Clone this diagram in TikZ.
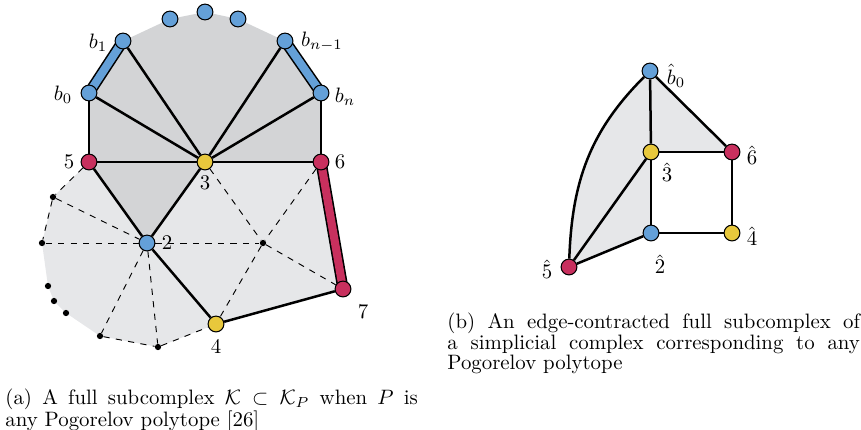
\documentclass[tikz,border=0pt]{standalone}
\usetikzlibrary{backgrounds}

\definecolor{vblue}{RGB}{100,160,216}
\definecolor{vred}{RGB}{200,48,94}
\definecolor{vyellow}{RGB}{232,200,60}
\definecolor{fdark}{RGB}{211,212,214}
\definecolor{flight}{RGB}{230,231,233}

\tikzset{
    vert/.style={circle, draw=black, line width=0.5pt, minimum size=7.6pt, inner sep=0pt},
    bv/.style={vert, fill=vblue},
    rv/.style={vert, fill=vred},
    yv/.style={vert, fill=vyellow},
    sdot/.style={circle, fill=black, minimum size=3pt, inner sep=0pt},
    edge/.style={line width=1.2pt},
    aux/.style={dashed, line width=0.45pt},
    capbox/.style={anchor=base west, text width=198pt, align=justify, inner sep=0pt,
        font=\fontsize{10}{9.3}\selectfont}
}

\newcommand{\bandedge}[3]{
    \draw[line width=5.4pt, black] (#1.center) -- (#2.center);
    \draw[line width=3.9pt, #3] (#1.center) -- (#2.center);
}

\begin{document}
\begin{tikzpicture}[x=0.48pt, y=-0.48pt]
    \useasboundingbox (0,0) rectangle (861,429);
    % (a) the full subcomplex
    \foreach \n/\x/\y in {t1/170/19, t2/205/12, t3/238/19, b1/123/41, bm/285/41, b0/89/93, bn/321/93, v2/147/243}
        \node[bv] (\n) at (\x,\y) {};
    \node[rv] (v5) at (89,162) {};
    \node[yv] (v3) at (205,162) {};
    \node[rv] (v6) at (321,162) {};
    \node[rv] (v7) at (343,289) {};
    \node[yv] (v4) at (216,324) {};
    \foreach \n/\x/\y in {d1/53/197, d2/42/243, d3/48/286, d4/54/301, d5/66/313, d6/100/336, d7/158/347, m/263/243}
        \node[sdot] (\n) at (\x,\y) {};
    \begin{scope}[on background layer]
        \fill[flight] (v5.center) -- (d1.center) -- (d2.center) -- (d3.center) -- (d4.center) -- (d5.center)
            -- (d6.center) -- (d7.center) -- (v4.center) -- (v7.center) -- (v6.center) -- cycle;
        \fill[fdark] (v5.center) -- (b0.center) -- (b1.center) -- (t1.center) -- (t2.center) -- (t3.center)
            -- (bm.center) -- (bn.center) -- (v6.center) -- (v3.center) -- (v2.center) -- cycle;
        \foreach \a/\b in {v5/d1, d1/d2, d1/v2, d2/v2, v2/d6, v2/d7, d6/d7, d7/v4, v2/m, v3/m, v6/m, m/v7, m/v4}
            \draw[aux] (\a) -- (\b);
        \foreach \a/\b in {b0/v5, bn/v6, v5/v3, v3/v6, b0/v3, b1/v3, bm/v3, bn/v3, v5/v2, v3/v2, v2/v4, v4/v7}
            \draw[edge] (\a) -- (\b);
        \bandedge{b0}{b1}{vblue}
        \bandedge{bm}{bn}{vblue}
        \bandedge{v6}{v7}{vred}
    \end{scope}
    \node (lb1) at (98,43) {$b_1$};
    \node (lbm) at (322,42) {$b_{n-1}$};
    \node (lb0) at (63,95) {$b_0$};
    \node (lbn) at (345,97) {$b_n$};
    \node (l5) at (69,162) {$5$};
    \node (l6) at (340,162) {$6$};
    \node (l3) at (205,183) {$3$};
    \node (l2) at (167,243) {$2$};
    \node (l7) at (363,312) {$7$};
    \node (l4) at (216,347) {$4$};
    \node[capbox] (capa) at (5,404) {(a) A full subcomplex $\mathcal{K}\subset\mathcal{K}_P$ when $P$ is\linebreak
        any Pogorelov polytope [26]};

    % (b) the edge-contracted subcomplex
    \node[bv] (h0) at (650,71) {};
    \node[yv] (h3) at (651,152) {};
    \node[rv] (h6) at (732,152) {};
    \node[bv] (h2) at (651,233) {};
    \node[yv] (h4) at (732,233) {};
    \node[rv] (h5) at (569,267) {};
    \begin{scope}[on background layer]
        \fill[flight] (h5.center) to[out=88, in=225] (h0.center) -- (h6.center) -- (h3.center) -- (h2.center) -- cycle;
        \draw[edge] (h5) to[out=88, in=225] (h0);
        \foreach \a/\b in {h0/h3, h0/h6, h3/h6, h3/h2, h3/h5, h2/h5, h2/h4, h4/h6}
            \draw[edge] (\a) -- (\b);
    \end{scope}
    \node (lh0) at (676,76) {$\hat{b}_0$};
    \node (lh6) at (752,155) {$\hat{6}$};
    \node (lh3) at (667,172) {$\hat{3}$};
    \node (lh4) at (752,236) {$\hat{4}$};
    \node (lh2) at (660,264) {$\hat{2}$};
    \node (lh5) at (547,269) {$\hat{5}$};
    \node[capbox] (capb) at (447,328) {(b) An edge-contracted full subcomplex of\linebreak
        a simplicial complex corresponding to any\linebreak Pogorelov polytope};
\end{tikzpicture}
\end{document}
